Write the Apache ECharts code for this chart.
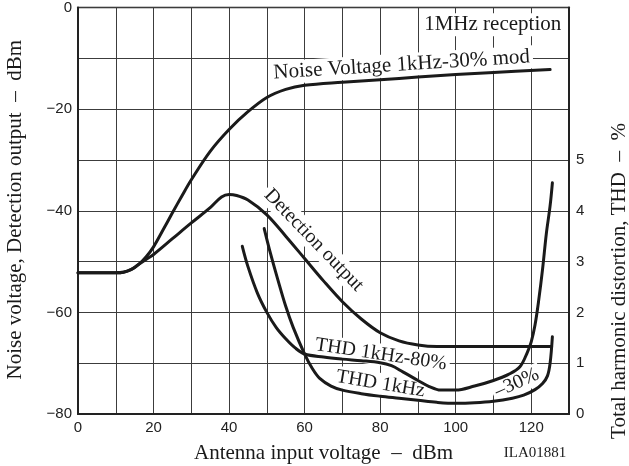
<!DOCTYPE html>
<html>
<head>
<meta charset="utf-8">
<script src="https://cdn.jsdelivr.net/npm/echarts@6/dist/echarts.min.js"></script>
<style>
  html, body { margin: 0; padding: 0; background: #fff; }
  #chart { width: 629px; height: 466px; }
</style>
</head>
<body>
<div id="chart"></div>
<script>
// Tick labels shown on each axis (gridlines every 10 dBm / every 10 dB input)
const xTickLabels = [0, 20, 40, 60, 80, 100, 120];
const leftTickLabels = [0, -20, -40, -60, -80];
const rightTickLabels = [0, 1, 2, 3, 4, 5];

// Left axis (dBm) curves: [antenna input dBm, output dBm]
const noiseVoltage = [
  [0, -52.2], [10, -52.2], [12, -52.1], [14, -51.6], [16, -50.6], [18, -49.1],
  [20, -47.1], [22.5, -43.8], [25, -40.4], [27.5, -37.1], [30, -33.9], [35, -28.3],
  [40, -24], [45, -20.5], [50, -17.7], [55, -16.1], [60, -15.3], [70, -14.7],
  [80, -14.2], [90, -13.7], [100, -13.2], [110, -12.8], [125, -12.2]
];
const detectionOutput = [
  [0, -52.2], [10, -52.2], [12, -52.1], [14, -51.6], [16, -50.6], [18, -49.6],
  [20, -48.6], [25, -45.5], [30, -42.4], [35, -39.4], [38, -37.3], [40, -36.8],
  [42, -37], [45, -37.9], [50, -40.8], [55, -45], [60, -49.4], [65, -53.8],
  [70, -57.9], [75, -61.3], [80, -64], [85, -65.6], [90, -66.4], [95, -66.7],
  [125.4, -66.7]
];

// Right axis (THD %) curves: [antenna input dBm, THD %]
const thd80 = [
  [43.5, 3.3], [45, 2.9], [47.5, 2.38], [50, 2.0], [52.5, 1.7], [55, 1.48],
  [57.5, 1.3], [60, 1.18], [65, 1.12], [70, 1.08], [75, 1.05], [80, 1.01],
  [83, 0.95], [86, 0.83], [90, 0.66], [93, 0.54], [96, 0.47], [100, 0.47],
  [105, 0.55], [110, 0.66], [114, 0.78], [117, 0.93], [119, 1.22], [120, 1.42],
  [121, 1.75], [122, 2.25], [123, 2.85], [124, 3.55], [125, 4.1], [125.6, 4.55]
];
const thd30 = [
  [49.3, 3.65], [51, 3.15], [53, 2.62], [55, 2.12], [57, 1.7], [60, 1.18],
  [62, 0.9], [64, 0.7], [67, 0.55], [70, 0.47], [75, 0.4], [80, 0.35],
  [85, 0.31], [90, 0.27], [95, 0.23], [100, 0.21], [105, 0.22], [110, 0.25],
  [115, 0.31], [118, 0.37], [121, 0.48], [123, 0.6], [124.3, 0.75], [125, 1.0],
  [125.6, 1.52]
];

// In-plot annotations, anchored in data coordinates (left axis)
const annotations = [
  { text: '1MHz reception', at: [109.8, -3.4], rot: 0, size: 21 },
  { text: 'Noise Voltage 1kHz-30% mod', at: [85.7, -11.3], rot: 3.6, size: 21 },
  { text: 'Detection output', at: [62.4, -45.8], rot: -46, size: 20 },
  { text: 'THD 1kHz-80%', at: [80.2, -68.3], rot: -8.5, size: 20 },
  { text: 'THD 1kHz', at: [80.1, -74.1], rot: -9.5, size: 20 },
  { text: '\u201330%', at: [116.2, -73.9], rot: 24, size: 20 }
];

const SERIF = '"Liberation Serif", "Times New Roman", serif';
const SANS = '"Liberation Sans", Arial, sans-serif';
const INK = '#1a1a1a';
const GRID_LINE = '#3c3c3c';

const minus = v => String(v).replace('-', '\u2212');

const chart = echarts.init(document.getElementById('chart'), null, { renderer: 'canvas' });

function curve(name, data, yAxisIndex) {
  return {
    name, type: 'line', data, yAxisIndex,
    smooth: 0.35, showSymbol: false, symbol: 'none', z: 3,
    lineStyle: { color: INK, width: 3, cap: 'round', join: 'round' },
    emphasis: { disabled: true }, silent: true, animation: false
  };
}

const option = {
  animation: false,
  backgroundColor: '#fff',
  grid: {
    left: 78, top: 6, width: 491, height: 408,
    show: true, borderColor: '#222', borderWidth: 1.5, backgroundColor: 'transparent'
  },
  xAxis: {
    type: 'value', min: 0, max: 130, interval: 10,
    axisLine: { show: true, onZero: false, lineStyle: { color: '#222', width: 2 } },
    axisTick: { show: false },
    splitLine: { show: true, lineStyle: { color: GRID_LINE, width: 1 } },
    axisLabel: {
      margin: 6, color: '#222', fontFamily: SANS, fontSize: 15,
      formatter: v => xTickLabels.includes(v) ? minus(v) : ''
    }
  },
  yAxis: [
    {
      type: 'value', min: -80, max: 0, interval: 10,
      axisLine: { show: true, onZero: false, lineStyle: { color: '#222', width: 2 } },
      axisTick: { show: false },
      splitLine: { show: true, lineStyle: { color: GRID_LINE, width: 1 } },
      axisLabel: {
        margin: 6, color: '#222', fontFamily: SANS, fontSize: 15,
        formatter: v => leftTickLabels.includes(v) ? minus(v) : ''
      }
    },
    {
      type: 'value', position: 'right', min: 0, max: 8, interval: 1,
      axisLine: { show: true, onZero: false, lineStyle: { color: '#222', width: 2 } },
      axisTick: { show: false },
      splitLine: { show: false },
      axisLabel: {
        margin: 7, color: '#222', fontFamily: SANS, fontSize: 15,
        formatter: v => rightTickLabels.includes(v) ? String(v) : ''
      }
    }
  ],
  series: [
    curve('Noise Voltage 1kHz-30% mod', noiseVoltage, 0),
    curve('Detection output', detectionOutput, 0),
    curve('THD 1kHz-80%', thd80, 1),
    curve('THD 1kHz-30%', thd30, 1)
  ]
};

chart.setOption(option);

// Place text elements once the coordinate system exists
const toPx = p => chart.convertToPixel({ seriesIndex: 0 }, p);

const graphics = annotations.map(a => {
  const [px, py] = toPx(a.at);
  return {
    type: 'text', x: px, y: py, rotation: a.rot * Math.PI / 180, z: 1, silent: true,
    style: {
      text: a.text, x: 0, y: 0, align: 'center', verticalAlign: 'middle',
      font: `${a.size}px ${SERIF}`, fill: INK,
      backgroundColor: '#fff', padding: [1, 3]
    }
  };
});

const [gx0, gy1] = toPx([0, -80]);
const [gx1, gy0] = toPx([130, 0]);

graphics.push(
  {
    type: 'text', x: (gx0 + gx1) / 2, y: 453, z: 1, silent: true,
    style: {
      text: 'Antenna input voltage  \u2013  dBm', align: 'center', verticalAlign: 'middle',
      font: `21px ${SERIF}`, fill: INK
    }
  },
  {
    type: 'text', x: 535, y: 453, z: 1, silent: true,
    style: { text: 'ILA01881', align: 'center', verticalAlign: 'middle', font: `15px ${SERIF}`, fill: INK }
  },
  {
    type: 'text', x: 15, y: (gy0 + gy1) / 2 - 1, rotation: Math.PI / 2, z: 1, silent: true,
    style: {
      text: 'Noise voltage, Detection output  \u2013  dBm', align: 'center', verticalAlign: 'middle',
      font: `21px ${SERIF}`, fill: INK
    }
  },
  {
    type: 'text', x: 619, y: 281, rotation: Math.PI / 2, z: 1, silent: true,
    style: {
      text: 'Total harmonic distortion, THD  \u2013  %', align: 'center', verticalAlign: 'middle',
      font: `21px ${SERIF}`, fill: INK
    }
  }
);

chart.setOption({ graphic: { elements: graphics } });
</script>
</body>
</html>
